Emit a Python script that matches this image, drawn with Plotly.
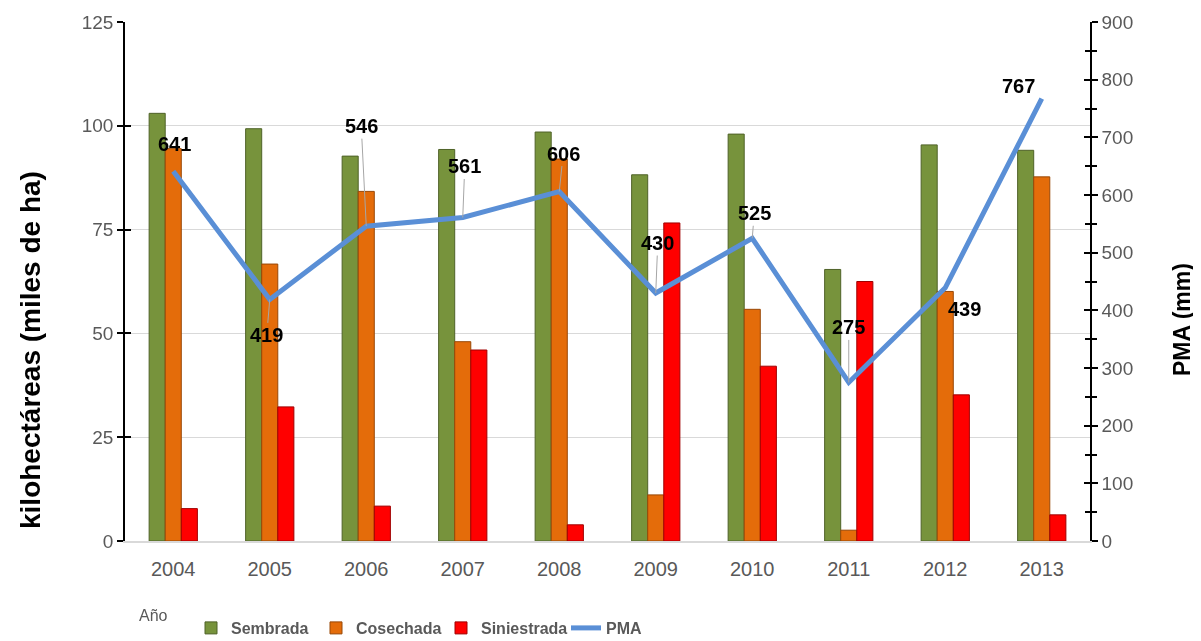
import plotly.graph_objects as go

years = ["2004", "2005", "2006", "2007", "2008", "2009", "2010", "2011", "2012", "2013"]
sembrada = [103.0, 99.3, 92.7, 94.3, 98.5, 88.2, 98.0, 65.4, 95.4, 94.1]
cosechada = [94.5, 66.7, 84.2, 48.0, 92.0, 11.1, 55.8, 2.6, 60.1, 87.7]
siniestrada = [7.8, 32.3, 8.4, 46.0, 3.9, 76.6, 42.1, 62.5, 35.2, 6.3]
pma = [641, 419, 546, 561, 606, 430, 525, 275, 439, 767]

# label offsets (pixels) and whether a leader line is shown
label_dx = [1, -3, -5, 2, 4, 2, 2, 0, 19, -23]
label_dy = [-27, 36, -100, -51, -38, -50, -25, -55, 21, -13]
leader = [False, True, True, True, True, True, True, True, False, False]

GRAY = "#595959"
FONT = "Liberation Sans, Arial, sans-serif"

# the page body adds an 8px offset; figure sized to fit the window
OFF = 8
FW, FH = 1201 - OFF, 641 - OFF
# plot area in screen pixels
SL, ST, W, H = 125, 22, 965, 519
L, T = SL - OFF, ST - OFF
def px(x):
    return (x - SL) / W
def py(y):
    return (ST + H - y) / H

fig = go.Figure()
fig.add_trace(go.Bar(name="<b>Sembrada</b>", x=years, y=sembrada,
                     marker=dict(color="#77933C", line=dict(color="#4F6228", width=1))))
fig.add_trace(go.Bar(name="<b>Cosechada</b>", x=years, y=cosechada,
                     marker=dict(color="#E46C0A", line=dict(color="#984807", width=1))))
fig.add_trace(go.Bar(name="<b>Siniestrada</b>", x=years, y=siniestrada,
                     marker=dict(color="#FF0000", line=dict(color="#A00000", width=1))))
fig.add_trace(go.Scatter(name="<b>PMA</b>", x=years, y=pma, yaxis="y2", mode="lines",
                         line=dict(color="#5A8FD6", width=5)))
# invisible traces that carry the inner half of the cross ticks
fig.add_trace(go.Scatter(x=years, y=sembrada, yaxis="y3", mode="markers", opacity=0,
                         showlegend=False, hoverinfo="skip"))
fig.add_trace(go.Scatter(x=years, y=pma, yaxis="y4", mode="markers", opacity=0,
                         showlegend=False, hoverinfo="skip"))

for i, v in enumerate(pma):
    fig.add_annotation(x=i, y=v, xref="x", yref="y2", text=f"<b>{v}</b>",
                       showarrow=True, arrowhead=0, arrowwidth=1, standoff=0,
                       arrowcolor="#A6A6A6" if leader[i] else "rgba(0,0,0,0)",
                       ax=label_dx[i], ay=label_dy[i],
                       font=dict(family=FONT, size=20, color="black"))

fig.add_annotation(text="Año", xref="paper", yref="paper", x=px(153), y=py(615),
                   xanchor="center", yanchor="middle",
                   showarrow=False, font=dict(family=FONT, size=16, color=GRAY))
fig.add_annotation(text="<b>kilohectáreas (miles de ha)</b>", xref="paper", yref="paper",
                   x=px(30), y=py(350), xanchor="center", yanchor="middle",
                   textangle=-90, showarrow=False,
                   font=dict(family=FONT, size=28, color="black"))
fig.add_annotation(text="<b>PMA (mm)</b>", xref="paper", yref="paper",
                   x=px(1182), y=py(320), xanchor="center", yanchor="middle",
                   textangle=-90, showarrow=False,
                   font=dict(family=FONT, size=23, color="black"))

fig.update_layout(
    width=FW, height=FH,
    margin=dict(l=L, r=FW - L - W, t=T, b=FH - T - H),
    paper_bgcolor="white", plot_bgcolor="white",
    barmode="group", bargap=0.5, bargroupgap=0,
    font=dict(family=FONT, color=GRAY),
    xaxis=dict(type="category", range=[-0.5, 9.5], showline=True, linecolor="#D9D9D9",
               linewidth=2, ticks="outside", ticklen=9, tickcolor="rgba(0,0,0,0)",
               tickfont=dict(size=20, color=GRAY), showgrid=False, automargin=False),
    yaxis=dict(range=[0, 125], dtick=25, showgrid=True, gridcolor="#D9D9D9", gridwidth=1,
               showline=True, linecolor="black", linewidth=1.5, ticks="outside",
               ticklen=6, tickcolor="black", tickwidth=2, zeroline=False,
               tickfont=dict(size=19, color=GRAY), automargin=False),
    yaxis2=dict(range=[0, 900], dtick=100, overlaying="y", side="right", showgrid=False,
                showline=True, linecolor="black", linewidth=1.5, ticks="outside",
                ticklen=6, tickcolor="black", tickwidth=2, zeroline=False,
                minor=dict(dtick=50, ticks="outside", ticklen=5, tickcolor="black", tickwidth=1.5),
                tickfont=dict(size=19, color=GRAY), automargin=False),
    yaxis3=dict(range=[0, 125], dtick=25, overlaying="y", side="left", showgrid=False,
                showticklabels=False, ticks="inside", ticklen=6, tickcolor="black",
                tickwidth=2, showline=False, zeroline=False, automargin=False),
    yaxis4=dict(range=[0, 900], dtick=100, overlaying="y", side="right", showgrid=False,
                showticklabels=False, ticks="inside", ticklen=6, tickcolor="black",
                tickwidth=2, showline=False, zeroline=False, automargin=False,
                minor=dict(dtick=50, ticks="inside", ticklen=5, tickcolor="black", tickwidth=1.5)),
    legend=dict(orientation="h", x=px(191), y=1 - (611 - OFF) / FH, yref="container",
                xanchor="left", yanchor="top",
                entrywidth=80, entrywidthmode="pixels",
                font=dict(size=16, color=GRAY, family=FONT), bgcolor="rgba(0,0,0,0)"),
    showlegend=True,
)

fig.write_html("out.html")
